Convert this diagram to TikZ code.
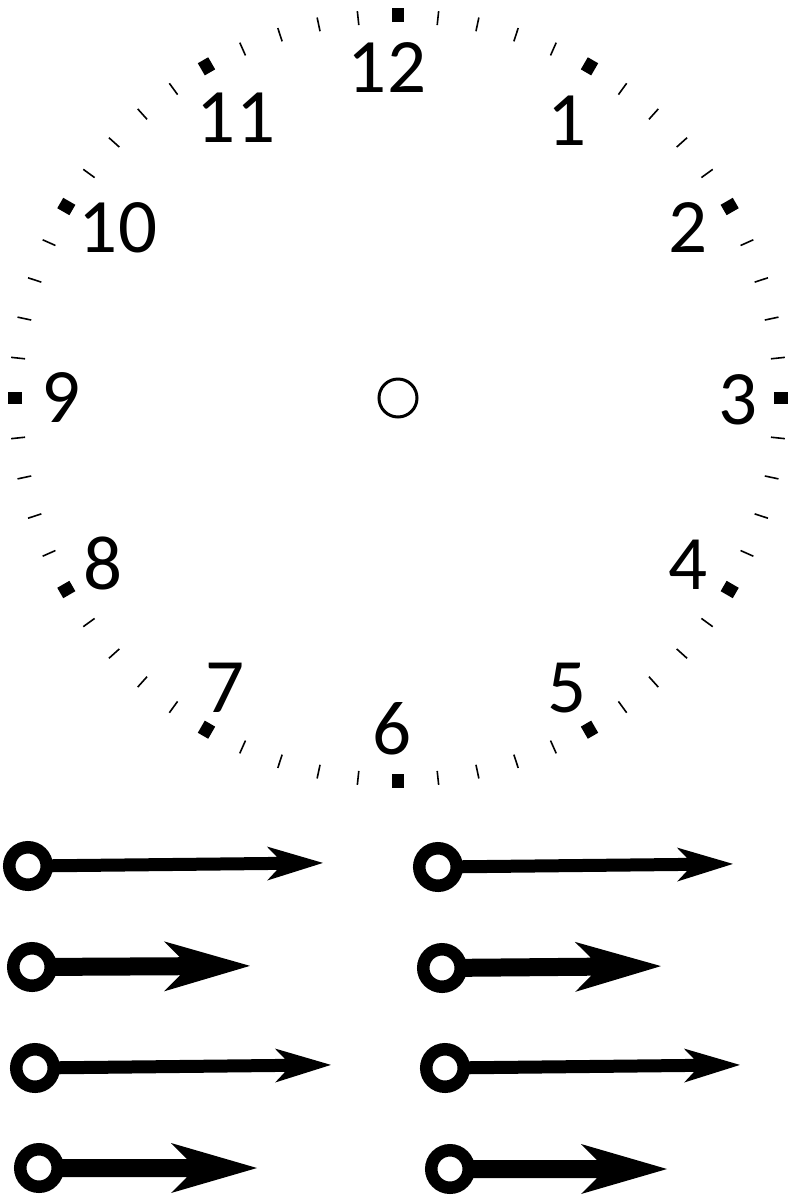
\documentclass[tikz,border=0pt]{standalone}
\usepackage{fontspec}
\setmainfont{Carlito}
\tikzset{
  majortick/.style={line width=12pt},
  minortick/.style={line width=1.6pt},
  num/.style={font=\fontsize{77}{77}\selectfont, anchor=base, inner sep=0pt},
  ring/.style={draw=black, fill=white, line width=12.5pt},
  pics/longhand/.style={code={
    \fill[black] (0,6.5) -- (#1-46,6.5) -- (#1-56,17) -- (#1,0) -- (#1-56,-17) -- (#1-46,-6.5) -- (0,-6.5) -- cycle;
    \draw[ring] (0,0) circle (18.75pt);
  }},
  pics/shorthand/.style={code={
    \fill[black] (0,9) -- (#1-70,9) -- (#1-86,25) -- (#1,0) -- (#1-86,-25) -- (#1-70,-9) -- (0,-9) -- cycle;
    \draw[ring] (0,0) circle (18.75pt);
  }},
}
\begin{document}
\begin{tikzpicture}[x=1pt,y=-1pt]
\useasboundingbox (0,0) rectangle (797,1195);
\coordinate (c) at (398,398);
% ticks
\foreach \i in {0,...,59}{
  \pgfmathsetmacro\a{-90+6*\i}
  \pgfmathtruncatemacro\m{mod(\i,5)}
  \ifnum\m=0
    \draw[majortick] ([shift={(\a:376)}]c) -- ([shift={(\a:390)}]c);
  \else
    \draw[minortick] ([shift={(\a:375)}]c) -- ([shift={(\a:389)}]c);
  \fi
}
% hub
\node[circle, draw, line width=3pt, minimum size=38pt, inner sep=0pt] (hub) at (c) {};
% numerals
\node[num] (n12) at (387,92) {12};
\node[num] (n1) at (567,145) {1};
\node[num] (n2) at (688,252) {2};
\node[num] (n3) at (738,424) {3};
\node[num] (n4) at (688,589) {4};
\node[num] (n5) at (567,712) {5};
\node[num] (n6) at (392,754) {6};
\node[num] (n7) at (225,712) {7};
\node[num] (n8) at (103,589) {8};
\node[num] (n9) at (61,422) {9};
\node[num] (n10) at (118,252) {10};
\node[num] (n11) at (236,142) {11};
% hands
\pic[rotate=0.6] at (28,866) {longhand=295};
\pic[rotate=0.6] at (438,867) {longhand=295};
\pic[rotate=0.3] at (32,967) {shorthand=218};
\pic[rotate=0.5] at (442,968) {shorthand=219};
\pic[rotate=0.6] at (35,1068) {longhand=296};
\pic[rotate=0.6] at (445,1068) {longhand=295};
\pic at (39,1168) {shorthand=218};
\pic at (450,1169) {shorthand=217};
\end{tikzpicture}
\end{document}
